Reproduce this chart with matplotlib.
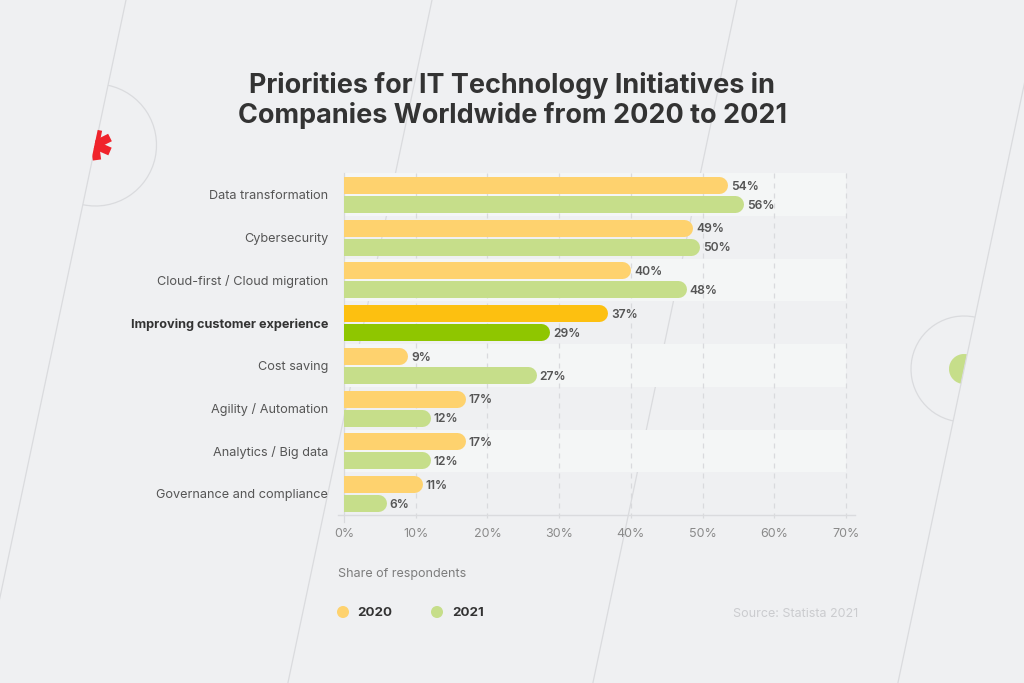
import numpy as np
import matplotlib
matplotlib.use("Agg")
import matplotlib.pyplot as plt
from matplotlib.patches import Arc, Wedge

plt.rcParams["font.family"] = ["Inter", "DejaVu Sans"]

# ── Data ───────────────────────────────────────────────────────────────────
categories = ["Data transformation", "Cybersecurity", "Cloud-first / Cloud migration",
              "Improving customer experience", "Cost saving", "Agility / Automation",
              "Analytics / Big data", "Governance and compliance"]
values_2020 = [53.5, 48.6, 40.0, 36.8, 8.9, 16.9, 16.9, 10.9]
values_2021 = [55.7, 49.6, 47.7, 28.7, 26.8, 12.0, 12.0, 5.9]
x_ticks = [0, 10, 20, 30, 40, 50, 60, 70]
highlight = "Improving customer experience"

BG = "#EFF0F2"
C_2020, C_2021 = "#FED26E", "#C6DE8A"
C_2020_HL, C_2021_HL = "#FDC010", "#8FC600"
GRID = "#D9DADD"
W, H = 1024, 683

fig = plt.figure(figsize=(W / 100, H / 100), dpi=100, facecolor=BG)

# ── Background decoration (pixel coordinates) ──────────────────────────────
bg = fig.add_axes([0, 0, 1, 1], zorder=0)
bg.set_xlim(0, W); bg.set_ylim(H, 0); bg.axis("off")

slope = 0.211
for top_x in (126, 432, 737, 1042):
    bg.plot([top_x, top_x - slope * H], [0, H], color="#DADBDE", lw=0.9)

tilt = np.degrees(np.arctan2(1, -slope))
bg.add_patch(Arc((95.5, 145), 122, 122, theta1=tilt - 180, theta2=tilt, color="#DADBDE", lw=0.9))
bg.add_patch(Arc((964, 369), 106, 106, theta1=tilt, theta2=tilt + 180, color="#DADBDE", lw=0.9))
bg.add_patch(Wedge((964, 369), 15, tilt, tilt + 180, color=C_2021, lw=0))

clip = Wedge((94.5, 145), 40, tilt - 180, tilt, transform=bg.transData, lw=0)
for ex, ey in [(98, 130), (110, 137.5), (110, 151.5), (97, 160)]:
    ln, = bg.plot([95, ex], [145, ey], color="#F0232B", lw=6, solid_capstyle="butt")
    ln.set_clip_path(clip)

# ── Chart ──────────────────────────────────────────────────────────────────
left, right, top, bottom = 344, 846, 173, 515
ax = fig.add_axes([left / W, 1 - bottom / H, (right - left) / W, (bottom - top) / H], zorder=1)
ax.patch.set_alpha(0)
ax.set_xlim(0, 70)
ax.set_ylim(len(categories), 0)
for s in ax.spines.values():
    s.set_visible(False)

for i in range(0, len(categories), 2):
    ax.axhspan(i, i + 1, color="#F4F6F6", lw=0, zorder=0)

for t in x_ticks:
    ax.plot([t, t], [0, len(categories) + 0.16], color=GRID, lw=0.9, clip_on=False,
            ls="-" if t == 0 else (0, (4, 4)), zorder=1)
ax.plot([-0.85, 71.3], [len(categories)] * 2, color="#DADBDE", lw=1, clip_on=False, zorder=1)

px_per_unit = (right - left) / 70
bar_px = 17
cap = bar_px / 2 / px_per_unit
for i, cat in enumerate(categories):
    hl = cat == highlight
    rows = [(i + 0.28, values_2020[i], C_2020_HL if hl else C_2020),
            (i + 0.725, values_2021[i], C_2021_HL if hl else C_2021)]
    for y, v, c in rows:
        # round cap on the right end, the left one is clipped by the axes
        ax.plot([0, v - cap], [y, y], color=c, lw=bar_px * 0.72, solid_capstyle="round", zorder=2)
        ax.annotate(f"{v:.0f}%", (v, y), xytext=(2.5, -1.2), textcoords="offset points",
                    va="center", ha="left", fontsize=8.7, fontweight="semibold",
                    color="#555555", zorder=3)
    ax.annotate(cat, (0, i + 0.5), xytext=(-11.5, -1.2), textcoords="offset points",
                va="center", ha="right", fontsize=9.15,
                fontweight="bold" if hl else "normal",
                color="#333333" if hl else "#555555", annotation_clip=False)

ax.set_yticks([])
ax.set_xticks(x_ticks)
ax.set_xticklabels([f"{t}%" for t in x_ticks], fontsize=9, color="#8A8A8A")
ax.tick_params(axis="x", length=0, pad=9.5)

# ── Titles, legend, source ─────────────────────────────────────────────────
fig.text(512 / W, 1 - 100.5 / H, "Priorities for IT Technology Initiatives in\nCompanies Worldwide from 2020 to 2021",
         ha="center", va="center", fontsize=19.45, fontweight="bold", color="#333333", linespacing=1.17)
fig.text(338 / W, 1 - 573.5 / H, "Share of respondents", va="center", fontsize=9, color="#7C7C7C")

bg.scatter([343, 437], [612, 612], s=75, color=[C_2020, C_2021], lw=0)
fig.text(357 / W, 1 - 613.5 / H, "2020", va="center", fontsize=9.6, fontweight="bold", color="#333333")
fig.text(452 / W, 1 - 613.5 / H, "2021", va="center", fontsize=9.6, fontweight="bold", color="#333333")
fig.text(858 / W, 1 - 614 / H, "Source: Statista 2021", va="center", ha="right", fontsize=9, color="#CBCCCF")

fig.savefig("out.png", dpi=100, facecolor=BG)
